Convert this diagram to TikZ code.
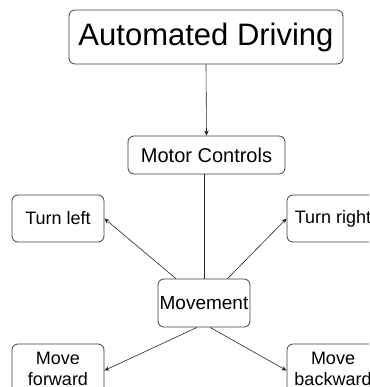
\documentclass[tikz,border=0pt]{standalone}
\usepackage{fontspec}
\setmainfont{Liberation Sans}
\usetikzlibrary{positioning,arrows.meta}

\begin{document}
\begin{tikzpicture}[x=1pt,y=-1pt,
  box/.style={shape=rectangle,draw=black!75,rounded corners=6pt,line width=0.8pt,
    inner sep=0pt,align=center,fill=white},
  link/.style={draw=black!85,line width=0.6pt},
  arr/.style={link,arrows={-Stealth[length=5pt,width=4.5pt]}}]
  \useasboundingbox (0,0) rectangle (369,387);
  \clip (0,0) rectangle (369,387);
  \node[box,minimum width=274pt,minimum height=54pt,font=\fontsize{31}{34}\selectfont] (drive) at (206,37) {Automated Driving};
  \node[box,minimum width=157pt,minimum height=38pt,font=\fontsize{20}{24}\selectfont] (motor) at (206.5,155) {Motor Controls};
  \node[box,minimum width=92pt,minimum height=48pt,font=\fontsize{19}{22}\selectfont] (move) at (204,303) {Movement};
  \node[box,minimum width=92pt,minimum height=47pt,font=\fontsize{18}{21}\selectfont] (left) at (58,218.5) {Turn left};
  \node[box,minimum width=92pt,minimum height=47pt,font=\fontsize{18}{21}\selectfont] (right) at (333,218.5) {Turn right};
  \node[box,minimum width=92pt,minimum height=49pt,font=\fontsize{18}{21}\selectfont] (fwd) at (58,368.5) {Move\\forward};
  \node[box,minimum width=92pt,minimum height=49pt,font=\fontsize{18}{21}\selectfont] (bwd) at (333,368.5) {Move\\backward};
  % top chain
  \draw [arr] (drive.south) -- (motor.north);
  \draw [link] (move.north |- motor.south) -- (move.north);
  % from movement outwards
  \draw [arr] (move.139) -- (left.east);
  \draw [arr] (move.46) -- (right.west);
  \draw [arr] (move.254) -- ([yshift=-2pt]fwd.east);
  \draw [arr] (move.284) -- ([yshift=-2pt]bwd.west);
\end{tikzpicture}
\end{document}
